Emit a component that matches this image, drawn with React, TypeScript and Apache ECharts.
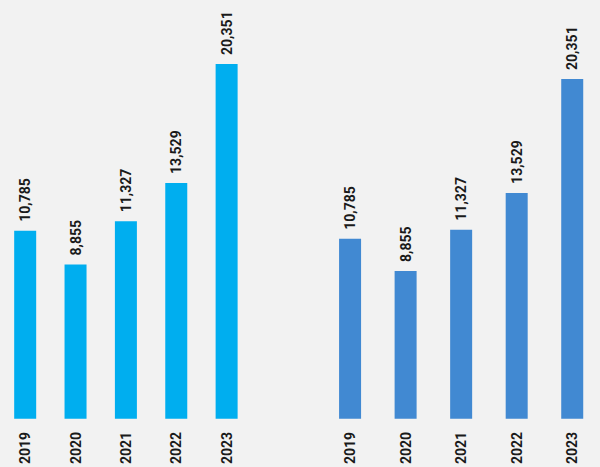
import React, { useEffect, useRef } from "react";
import * as echarts from "echarts";

const years = ["2019", "2020", "2021", "2022", "2023"];
const leftValues = [10785, 8855, 11327, 13529, 20351];
const rightValues = [10785, 8855, 11327, 13529, 20351];

const FONT = "Roboto, sans-serif";

export default function App() {
  const ref = useRef<HTMLDivElement>(null);
  useEffect(() => {
    if (!ref.current) return;
    const chart = echarts.init(ref.current, null, { renderer: "svg" });
    const labelCfg = {
      show: true,
      position: "top",
      rotate: 90,
      align: "left",
      verticalAlign: "middle",
      distance: 9,
      color: "#1a1a1a",
      fontFamily: FONT,
      fontWeight: "bold",
      fontSize: 14,
      formatter: (p: any) => p.value.toLocaleString("en-US"),
    };
    const xAxisBase = {
      type: "category",
      data: years,
      axisLine: { show: false },
      axisTick: { show: false },
      axisLabel: {
        rotate: 90,
        margin: 13,
        color: "#1a1a1a",
        fontFamily: FONT,
        fontWeight: "bold",
        fontSize: 14,
        interval: 0,
      },
    };
    const yAxisBase = {
      type: "value",
      min: 0,
      max: 24000,
      show: false,
      splitLine: { show: false },
    };
    chart.setOption({
      animation: false,
      backgroundColor: "#f2f2f2",
      grid: [
        { left: -4.2, width: 256, top: 0.3, bottom: 48 },
        { left: 322.3, width: 291, top: 18, bottom: 48 },
      ],
      xAxis: [
        { ...xAxisBase, gridIndex: 0 },
        { ...xAxisBase, gridIndex: 1 },
      ],
      yAxis: [
        { ...yAxisBase, gridIndex: 0 },
        { ...yAxisBase, gridIndex: 1 },
      ],
      series: [
        {
          type: "bar",
          xAxisIndex: 0,
          yAxisIndex: 0,
          data: leftValues,
          barWidth: 22,
          itemStyle: { color: "#00aeef" },
          label: labelCfg,
        },
        {
          type: "bar",
          xAxisIndex: 1,
          yAxisIndex: 1,
          data: rightValues,
          barWidth: 22,
          itemStyle: { color: "#4189d2" },
          label: labelCfg,
        },
      ],
    });
    return () => chart.dispose();
  }, []);
  return (
    <div
      ref={ref}
      style={{ position: "fixed", left: 0, top: 0, width: 600, height: 467 }}
    />
  );
}
